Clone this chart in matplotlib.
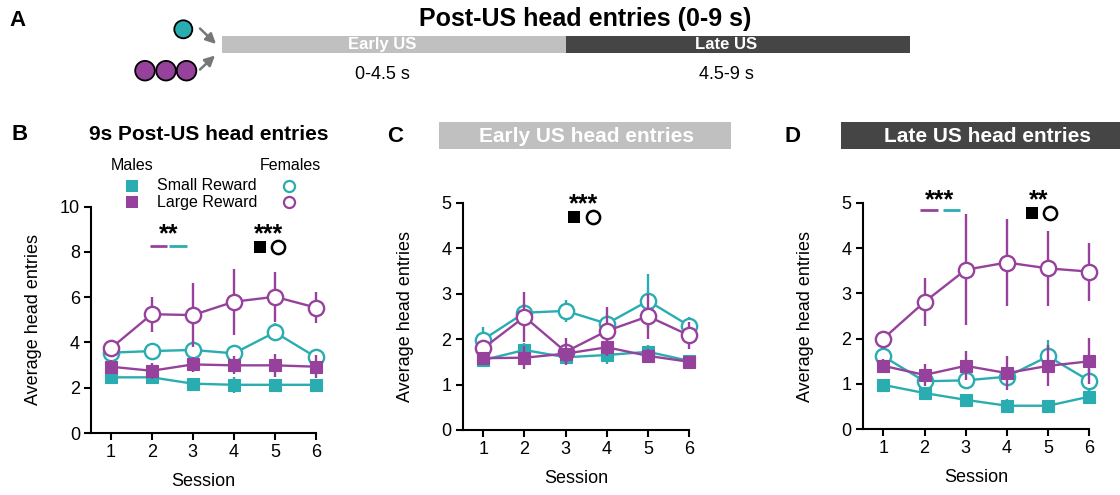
import numpy as np
import matplotlib.pyplot as plt
from matplotlib.patches import Circle, Rectangle, FancyArrowPatch

plt.rcParams['font.family'] = ['Liberation Sans', 'DejaVu Sans']

TEAL = '#2aadb1'
PURPLE = '#96429c'
LIGHT = '#c0c0c0'
DARK = '#454545'

sessions = [1, 2, 3, 4, 5, 6]

# panel A: time windows after US
phase_names = ['Early US', 'Late US']
phase_ranges = ['0-4.5 s', '4.5-9 s']
phase_edges = [0, 4.5, 9]
phase_colors = [LIGHT, DARK]

# panel B: 9 s post-US head entries
b_small_male = [2.46, 2.46, 2.18, 2.13, 2.13, 2.13]
b_small_male_err = [0.15, 0.2, 0.2, 0.35, 0.2, 0.15]
b_large_male = [2.93, 2.75, 3.03, 2.99, 2.99, 2.93]
b_large_male_err = [0.3, 0.35, 0.35, 0.4, 0.5, 0.5]
b_small_female = [3.55, 3.62, 3.67, 3.52, 4.45, 3.35]
b_small_female_err = [0.2, 0.2, 0.25, 0.25, 0.4, 0.2]
b_large_female = [3.74, 5.25, 5.21, 5.8, 6.02, 5.54]
b_large_female_err = [0.15, 0.78, 1.4, 1.46, 1.1, 0.69]

# panel C: early US (0-4.5 s)
c_small_male = [1.54, 1.76, 1.6, 1.65, 1.72, 1.52]
c_small_male_err = [0.1, 0.15, 0.15, 0.2, 0.15, 0.1]
c_large_male = [1.58, 1.59, 1.68, 1.82, 1.63, 1.5]
c_large_male_err = [0.1, 0.25, 0.2, 0.2, 0.15, 0.1]
c_small_female = [1.99, 2.58, 2.62, 2.34, 2.84, 2.29]
c_small_female_err = [0.28, 0.2, 0.24, 0.2, 0.6, 0.2]
c_large_female = [1.8, 2.49, 1.72, 2.18, 2.5, 2.08]
c_large_female_err = [0.15, 0.55, 0.3, 0.53, 0.5, 0.3]

# panel D: late US (4.5-9 s)
d_small_male = [0.98, 0.8, 0.65, 0.52, 0.52, 0.72]
d_small_male_err = [0.1, 0.1, 0.1, 0.15, 0.1, 0.15]
d_large_male = [1.4, 1.2, 1.4, 1.24, 1.4, 1.5]
d_large_male_err = [0.15, 0.25, 0.32, 0.38, 0.45, 0.51]
d_small_female = [1.61, 1.06, 1.08, 1.16, 1.61, 1.07]
d_small_female_err = [0.15, 0.15, 0.2, 0.15, 0.37, 0.25]
d_large_female = [2.0, 2.81, 3.52, 3.68, 3.55, 3.48]
d_large_female_err = [0.1, 0.52, 1.22, 0.96, 0.83, 0.64]

W, H = 1120, 495
fig = plt.figure(figsize=(W / 100, H / 100), dpi=100)


def box(left, top, right, bottom):
    return [left / W, 1 - bottom / H, (right - left) / W, (bottom - top) / H]


def panel(ax, small_m, small_m_err, large_m, large_m_err,
          small_f, small_f_err, large_f, large_f_err, ymax, yticks, xmin):
    series = [
        (small_f, small_f_err, TEAL, 'o', 'white', 11, 1.7),
        (small_m, small_m_err, TEAL, 's', TEAL, 8, 0.8),
        (large_f, large_f_err, PURPLE, 'o', 'white', 11, 1.7),
        (large_m, large_m_err, PURPLE, 's', PURPLE, 8, 0.8),
    ]
    for i, (v, e, col, mk, face, ms, mew) in enumerate(series):
        cont = ax.errorbar(sessions, v, yerr=e, color=col, ecolor=col, marker=mk,
                           mfc=face, mec=col, ms=ms, mew=mew, lw=1.7,
                           elinewidth=1.7, capsize=0, zorder=3 + i)
        for art in cont.get_children():
            art.set_clip_on(False)
    ax.set_xlim(xmin, 6)
    ax.set_ylim(0, ymax)
    ax.set_xticks(sessions)
    ax.set_yticks(yticks)
    ax.patch.set_visible(False)
    ax.spines['top'].set_visible(False)
    ax.spines['right'].set_visible(False)
    for s in ['left', 'bottom']:
        ax.spines[s].set_linewidth(1.5)
    ax.tick_params(width=1.5, length=5, labelsize=13, pad=3)
    ax.set_xlabel('Session', fontsize=13)
    ax.set_ylabel('Average head entries', fontsize=13)
    bb = ax.get_position()
    wpx = bb.width * W
    hpx = bb.height * H
    ax.yaxis.set_label_coords(-49 / wpx, 0.5)
    ax.xaxis.set_label_coords(0.5, -40 / hpx)


axB = fig.add_axes(box(91, 206.7, 316, 433))
panel(axB, b_small_male, b_small_male_err, b_large_male, b_large_male_err,
      b_small_female, b_small_female_err, b_large_female, b_large_female_err,
      10, [0, 2, 4, 6, 8, 10], 0.52)

axC = fig.add_axes(box(462.7, 202.7, 689.3, 430))
panel(axC, c_small_male, c_small_male_err, c_large_male, c_large_male_err,
      c_small_female, c_small_female_err, c_large_female, c_large_female_err,
      5, [0, 1, 2, 3, 4, 5], 0.5)

axD = fig.add_axes(box(862.7, 202.7, 1089.3, 429.3))
panel(axD, d_small_male, d_small_male_err, d_large_male, d_large_male_err,
      d_small_female, d_small_female_err, d_large_female, d_large_female_err,
      5, [0, 1, 2, 3, 4, 5], 0.5)

# panel A: time window bar
axA = fig.add_axes(box(222, 35.7, 910, 53.3))
for i, name in enumerate(phase_names):
    lo, hi = phase_edges[i], phase_edges[i + 1]
    axA.barh(0, hi - lo, left=lo, height=1, color=phase_colors[i])
    axA.text((lo + hi) / 2 - 0.15, 0, name, color='white', fontsize=12,
             fontweight='bold', ha='center', va='center')
    axA.text((lo + hi) / 2 - 0.15, -1.73, phase_ranges[i], fontsize=13,
             ha='center', va='center')
axA.set_xlim(phase_edges[0], phase_edges[-1])
axA.set_ylim(-0.5, 0.5)
axA.axis('off')

# overlay in pixel units for the decorations, drawn on top
ov = fig.add_axes([0, 0, 1, 1], zorder=10)
ov.set_xlim(0, W)
ov.set_ylim(H, 0)
ov.axis('off')

ov.text(585, 19, 'Post-US head entries (0-9 s)', fontsize=18, fontweight='bold',
        ha='center', va='center')
ov.text(18, 21, 'A', fontsize=16, fontweight='bold', ha='center', va='center')
ov.add_patch(Circle((183.3, 29.3), 9, fc=TEAL, ec='black', lw=1.3))
for cx in [145, 166, 186.5]:
    ov.add_patch(Circle((cx, 70.7), 9.8, fc=PURPLE, ec='black', lw=1.3))
for (x0, y0, x1, y1) in [(200, 28.5, 216, 44), (200, 69.5, 215, 55.5)]:
    ov.add_patch(FancyArrowPatch((x0, y0), (x1, y1), arrowstyle='-|>',
                                 mutation_scale=15, color='#777777', lw=1.8,
                                 shrinkA=0, shrinkB=0))

# panel letters and titles
ov.text(20, 135, 'B', fontsize=16, fontweight='bold', ha='center', va='center')
ov.text(209, 135, '9s Post-US head entries', fontsize=15, fontweight='bold',
        ha='center', va='center')
ov.text(395, 136, 'C', fontsize=16, fontweight='bold', ha='center', va='center')
ov.add_patch(Rectangle((439.3, 122), 291.4, 27, fc=LIGHT, ec='none'))
ov.text(586.7, 136, 'Early US head entries', fontsize=15, fontweight='bold',
        color='white', ha='center', va='center')
ov.text(792, 136, 'D', fontsize=16, fontweight='bold', ha='center', va='center')
ov.add_patch(Rectangle((840.7, 122), 280, 27, fc=DARK, ec='none'))
ov.text(988, 136, 'Late US head entries', fontsize=15, fontweight='bold',
        color='white', ha='center', va='center')

# legend in panel B
ov.text(132, 165, 'Males', fontsize=11.5, ha='center', va='center')
ov.text(290, 165, 'Females', fontsize=11.5, ha='center', va='center')
for yy, col, lab in [(186, TEAL, 'Small Reward'), (202.3, PURPLE, 'Large Reward')]:
    ov.plot(132.3, yy, 's', ms=8.6, color=col, mew=0)
    ov.plot(289.3, yy, 'o', ms=8, mfc='white', mec=col, mew=1.6)
    ov.text(156.7, yy, lab, fontsize=11.5, ha='left', va='center')


# significance marks
def stars(x, y, s):
    ov.text(x, y, s, fontsize=18, fontweight='bold', ha='center', va='baseline')


def dash_pair(x0, x1, x2, x3, y):
    ov.plot([x0, x1], [y, y], color=PURPLE, lw=2, solid_capstyle='butt')
    ov.plot([x2, x3], [y, y], color=TEAL, lw=2, solid_capstyle='butt')


def sex_pair(xs, xc, y):
    ov.plot(xs, y, 's', ms=8, color='black', mew=0)
    ov.plot(xc, y, 'o', ms=9.5, mfc='white', mec='black', mew=1.8)


stars(168.3, 241, '**')
dash_pair(150, 166.7, 169, 187.3, 245.7)
stars(268.3, 241, '***')
sex_pair(260, 277.7, 247.3)

stars(583.3, 211, '***')
sex_pair(574.3, 592.7, 216.7)

stars(940, 207, '***')
dash_pair(920, 938.3, 942.7, 960, 210)
stars(1038.3, 207, '**')
sex_pair(1031.7, 1050, 213)

fig.savefig('out.png', dpi=100)
